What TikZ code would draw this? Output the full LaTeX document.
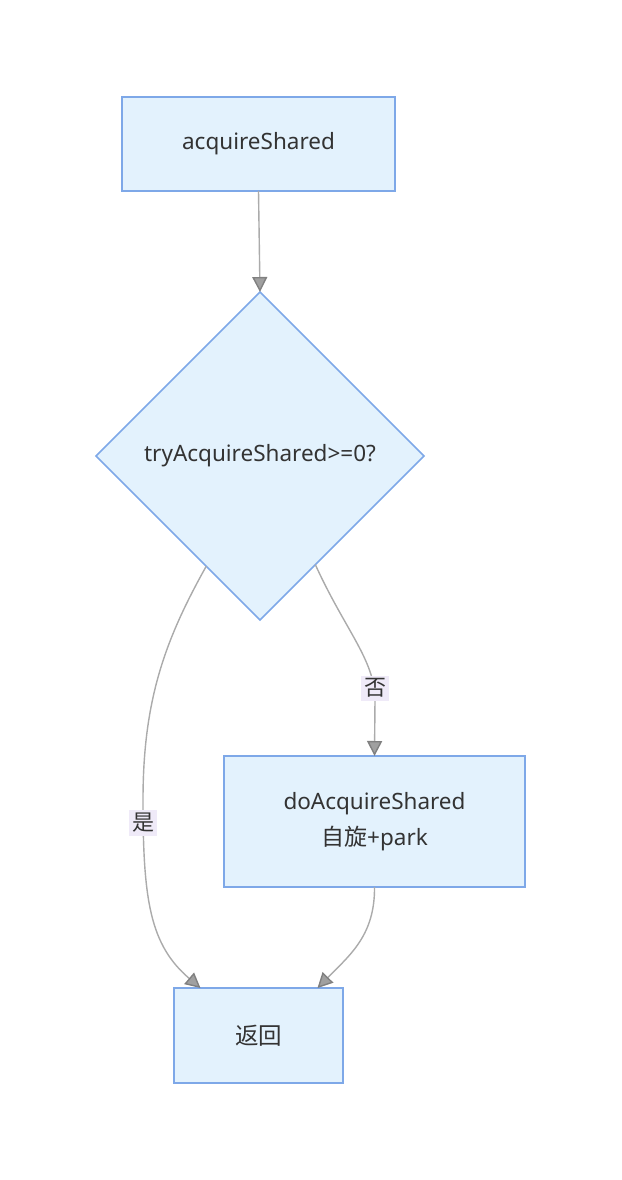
\documentclass[tikz,border=0pt]{standalone}
\usepackage{fontspec}
\setmainfont{Noto Sans}
\newfontfamily\cjk{Noto Sans CJK SC}
\usetikzlibrary{shapes.geometric,arrows.meta,calc}
\definecolor{nodefill}{HTML}{E3F2FD}
\definecolor{nodeline}{HTML}{7EA8E8}
\definecolor{edgecol}{HTML}{ABABAB}
\definecolor{tipfill}{HTML}{A0A0A0}
\definecolor{labelbg}{HTML}{EFEAF8}
\definecolor{txt}{HTML}{333333}
\tikzset{
  box/.style={draw=nodeline, fill=nodefill, line width=1.5pt, inner sep=0pt, outer sep=0pt, text=txt, font=\fontsize{22.5}{36}\selectfont, align=center},
  decision/.style={diamond, draw=nodeline, fill=nodefill, line width=1.5pt, inner sep=0pt, outer sep=0pt, minimum width=328pt, minimum height=328pt, text=txt, font=\fontsize{22.5}{28}\selectfont},
  edge/.style={draw=edgecol, line width=1.4pt, -{Triangle[length=15pt,width=15pt,fill=tipfill,color=tipfill!80!black]}},
  elabel/.style={fill=labelbg, text=txt, inner sep=3pt, font=\fontsize{22}{26}\selectfont\cjk}
}
\begin{document}
\begin{tikzpicture}[x=1pt,y=-1pt]
\useasboundingbox (0,0) rectangle (621,1180);
\node[box, minimum width=273pt, minimum height=94pt] (a) at (258.5,144) {acquireShared};
\node[decision] (d) at (260,456) {tryAcquireShared>=0?};
\node[box, minimum width=301pt, minimum height=131pt] (s) at (374.5,821.5) {doAcquireShared\\{\cjk\fontsize{23}{36}\selectfont 自旋}+park};
\node[box, minimum width=169pt, minimum height=95pt] (r) at (258.5,1035.5) {{\cjk\fontsize{23.5}{36}\selectfont 返回}};
\draw[edge] (a.south) -- (d.north);
\draw[edge] (d.-116.6) .. controls (165,640) and (143,700) .. (143,800)
  .. controls (143,900) and (150,945) .. ($(r.north)+(-58,0)$);
\draw[edge] (d.-63.9) .. controls (345,630) and (375,660) .. (375,700) -- (s.north);
\draw[edge] (s.south) .. controls (375,935) and (350,955) .. ($(r.north)+(59,0)$);
\node[elabel] (ly) at (143,823) {是};
\node[elabel] (ln) at (375,688) {否};
\end{tikzpicture}
\end{document}
